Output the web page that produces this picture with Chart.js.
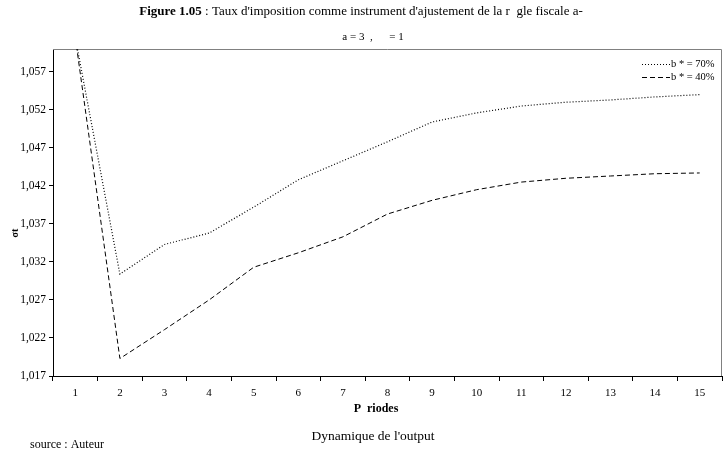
<!DOCTYPE html>
<html>
<head>
<meta charset="utf-8">
<script src="https://cdn.jsdelivr.net/npm/chart.js@4/dist/chart.umd.min.js"></script>
<style>
  html, body { margin: 0; padding: 0; background: #fff; }
  #wrap { width: 723px; height: 452px; position: relative; }
</style>
</head>
<body>
<div id="wrap"><canvas id="myChart" width="723" height="452"></canvas></div>
<script>
const periodes = ["1", "2", "3", "4", "5", "6", "7", "8", "9", "10", "11", "12", "13", "14", "15"];

const b70 = [1.0615, 1.0304, 1.0343, 1.0358, 1.0392, 1.0428, 1.0453, 1.0478, 1.0504, 1.0516, 1.0525, 1.0530, 1.0533, 1.0537, 1.0540];
const b40 = [1.0615, 1.0193, 1.0231, 1.0270, 1.0313, 1.0332, 1.0353, 1.0383, 1.0401, 1.0415, 1.0425, 1.0430, 1.0433, 1.0436, 1.0437];

const yTicks = [1.017, 1.022, 1.027, 1.032, 1.037, 1.042, 1.047, 1.052, 1.057];

const serif = "'Liberation Serif', 'Times New Roman', serif";

// titles, legend, frame and other texts
const extras = {
  id: "extras",
  beforeDatasetsDraw(chart) {
    const { ctx, chartArea: a } = chart;
    ctx.save();
    ctx.strokeStyle = "#808080";
    ctx.lineWidth = 1;
    ctx.beginPath();
    ctx.moveTo(a.left, a.top + 0.5);
    ctx.lineTo(a.right - 0.5, a.top + 0.5);
    ctx.lineTo(a.right - 0.5, a.bottom);
    ctx.stroke();
    ctx.restore();
  },
  afterDraw(chart) {
    const { ctx } = chart;
    ctx.save();
    ctx.fillStyle = "#000";
    ctx.textBaseline = "middle";

    // title line 1 (bold + normal)
    const t1 = "Figure 1.05";
    const t2 = " : Taux d'imposition comme instrument d'ajustement de la r  gle fiscale a-";
    ctx.font = "bold 13px " + serif;
    const w1 = ctx.measureText(t1).width;
    ctx.font = "13px " + serif;
    const w2 = ctx.measureText(t2).width;
    let x = 361 - (w1 + w2) / 2;
    ctx.textAlign = "left";
    ctx.font = "bold 13px " + serif;
    ctx.fillText(t1, x, 12);
    ctx.font = "13px " + serif;
    ctx.fillText(t2, x + w1, 12);

    // title line 2
    ctx.font = "11px " + serif;
    ctx.textAlign = "center";
    ctx.fillText("a = 3  ,      = 1", 373, 37);

    // y axis title
    ctx.save();
    ctx.translate(15, 233);
    ctx.rotate(-Math.PI / 2);
    ctx.font = "bold 10px " + serif;
    ctx.fillText("\u03C3t", 0, 0);
    ctx.restore();

    // x axis title
    ctx.font = "bold 12px " + serif;
    ctx.textAlign = "center";
    ctx.fillText("P  riodes", 376, 409);

    ctx.font = "13.5px " + serif;
    ctx.fillText("Dynamique de l'output", 373, 436);

    ctx.font = "12px " + serif;
    ctx.textAlign = "left";
    ctx.fillText("source : Auteur", 30, 445);

    // legend
    ctx.font = "10.5px " + serif;
    chart.data.datasets.forEach((ds, i) => {
      const y = 64 + i * 13;
      ctx.save();
      ctx.strokeStyle = ds.borderColor;
      ctx.lineWidth = 1;
      ctx.setLineDash(ds.borderDash);
      ctx.beginPath();
      ctx.moveTo(642, y + 0.5);
      ctx.lineTo(670, y + 0.5);
      ctx.stroke();
      ctx.restore();
      ctx.fillText(ds.label, 671, y);
    });
    ctx.restore();
  },
};

const ctx = document.getElementById("myChart").getContext("2d");
const myChart = new Chart(ctx, {
  type: "line",
  data: {
    labels: periodes,
    datasets: [
      {
        label: "b * = 70%",
        data: b70,
        borderColor: "#000",
        borderWidth: 1.2,
        borderDash: [1, 2],
        pointRadius: 0,
        tension: 0,
      },
      {
        label: "b * = 40%",
        data: b40,
        borderColor: "#000",
        borderWidth: 1,
        borderDash: [5, 3],
        pointRadius: 0,
        tension: 0,
      },
    ],
  },
  options: {
    responsive: false,
    animation: false,
    layout: { padding: { top: 49, right: 1, left: 0, bottom: 0 } },
    plugins: {
      legend: { display: false },
      title: { display: false },
      tooltip: { enabled: false },
    },
    scales: {
      x: {
        offset: true,
        grid: {
          offset: true,
          drawOnChartArea: false,
          color: "#000",
          tickLength: 5,
        },
        border: { color: "#000" },
        ticks: {
          color: "#000",
          font: { family: serif, size: 11 },
          padding: 6,
          maxRotation: 0,
        },
        afterFit(scale) {
          scale.height = 76;
        },
      },
      y: {
        min: 1.017,
        max: 1.060,
        grid: {
          drawOnChartArea: false,
          color: "#000",
          tickLength: 4,
        },
        border: { color: "#000" },
        ticks: {
          color: "#000",
          font: { family: serif, size: 11.5 },
          padding: 3,
          callback: (v) => v.toFixed(3).replace(".", ","),
        },
        afterBuildTicks(scale) {
          scale.ticks = yTicks.map((v) => ({ value: v }));
        },
        afterFit(scale) {
          scale.width = 53;
        },
      },
    },
  },
  plugins: [extras],
});
</script>
</body>
</html>
